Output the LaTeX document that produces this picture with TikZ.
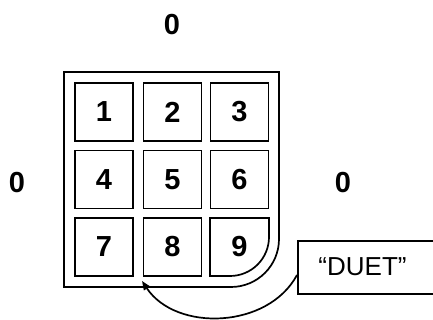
\documentclass[tikz,border=0pt]{standalone}
\usepackage{fontspec}
\setmainfont{Liberation Sans}
\usetikzlibrary{arrows.meta}
\begin{document}
\begin{tikzpicture}[x=1pt,y=1pt,
  lw/.style={line width=1.7pt},
  cell/.style={lw,draw,minimum width=58pt,minimum height=58pt,inner sep=0pt,font=\fontsize{29}{29}\selectfont\bfseries},
  zero/.style={font=\fontsize{29}{29}\selectfont\bfseries,inner sep=0pt},
  label/.style={lw,draw,inner sep=0pt,minimum width=140pt,minimum height=53pt,font=\fontsize{26}{26}\selectfont}]
\useasboundingbox (0,0) rectangle (433,320);
% outer frame
\draw[lw] (64,248) -- (279,248) -- (279,81) arc[start angle=0,end angle=-90,radius=48pt] -- (64,33) -- cycle;
% cells
\node[cell] (c1) at (104,208) {1};
\node[cell] (c2) at (172.5,208) {2};
\node[cell] (c3) at (239.5,208) {3};
\node[cell] (c4) at (104,140.5) {4};
\node[cell] (c5) at (172.5,140.5) {5};
\node[cell] (c6) at (239.5,140.5) {6};
\node[cell] (c7) at (104,73) {7};
\node[cell] (c8) at (172.5,73) {8};
\draw[lw] (210,102) -- (269,102) -- (269,83) arc[start angle=0,end angle=-90,radius=39pt] -- (210,44) -- cycle;
\node[zero] (c9) at (239.5,73) {9};
% zeros
\node[zero] (t0) at (172,295) {0};
\node[zero] (l0) at (17,137) {0};
\node[zero] (r0) at (343,137) {0};
% label box
\node[label,anchor=north west] (duet) at (297,80) {};
\node[font=\fontsize{26}{26}\selectfont,inner sep=0pt] (duettext) at (362.5,53) {“DUET”};
\coordinate (tip) at (142,39);
\draw[lw,-{Triangle[length=9pt,width=7pt]}] (duet.west |- 0,45) .. controls (268,-9) and (176,-12) .. (tip);
\end{tikzpicture}
\end{document}
